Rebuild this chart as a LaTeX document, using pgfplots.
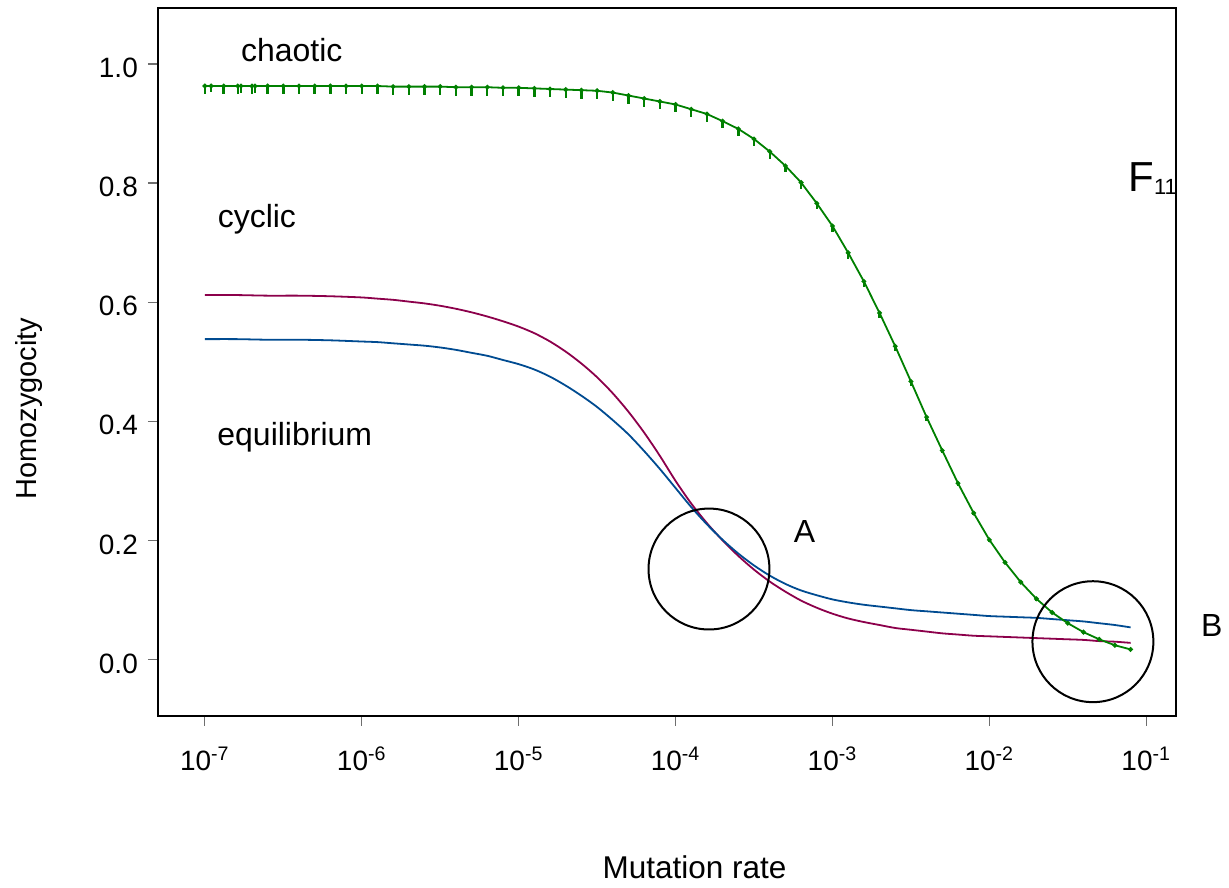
\documentclass[border=0pt]{standalone}
\usepackage{fontspec}
\setmainfont{Liberation Sans}
\usepackage{pgfplots}
\usepackage{pgfplotstable}
\pgfplotsset{compat=1.18}
\definecolor{cred}{RGB}{140,0,75}
\definecolor{cblue}{RGB}{0,75,145}
\definecolor{cgreen}{RGB}{0,128,0}
\definecolor{tickgray}{RGB}{110,110,110}

% x = log10(mutation rate)
\pgfplotstableread{
lx y e
-7.00 0.963 0.014
-6.96 0.963 0.010
-6.88 0.963 0.014
-6.79 0.963 0.014
-6.77 0.963 0.012
-6.70 0.963 0.014
-6.68 0.963 0.012
-6.60 0.963 0.014
-6.50 0.963 0.014
-6.40 0.963 0.014
-6.30 0.963 0.014
-6.20 0.963 0.014
-6.10 0.963 0.014
-6.00 0.963 0.014
-5.90 0.963 0.014
-5.80 0.962 0.014
-5.70 0.962 0.014
-5.60 0.962 0.014
-5.50 0.962 0.014
-5.40 0.961 0.014
-5.30 0.961 0.014
-5.20 0.961 0.014
-5.10 0.960 0.014
-5.00 0.960 0.014
-4.90 0.959 0.014
-4.80 0.958 0.014
-4.70 0.957 0.014
-4.60 0.956 0.014
-4.50 0.955 0.014
-4.40 0.952 0.014
-4.30 0.947 0.014
-4.20 0.942 0.014
-4.10 0.937 0.013
-4.00 0.932 0.013
-3.90 0.924 0.013
-3.80 0.916 0.013
-3.70 0.904 0.012
-3.60 0.891 0.012
-3.50 0.874 0.012
-3.40 0.853 0.012
-3.30 0.829 0.011
-3.20 0.801 0.011
-3.10 0.766 0.010
-3.00 0.728 0.010
-2.90 0.683 0.010
-2.80 0.635 0.009
-2.70 0.582 0.008
-2.60 0.526 0.008
-2.50 0.467 0.007
-2.40 0.407 0.006
-2.30 0.351 0.005
-2.20 0.296 0.005
-2.10 0.246 0.004
-2.00 0.201 0.004
-1.90 0.163 0.003
-1.80 0.130 0.003
-1.70 0.102 0.003
-1.60 0.079 0.003
-1.50 0.061 0.003
-1.40 0.046 0.003
-1.30 0.034 0.003
-1.20 0.024 0.003
-1.10 0.017 0.003
}\chaotic

\pgfplotstableread{
lx y
-7.00 0.612
-6.80 0.612
-6.60 0.611
-6.40 0.611
-6.20 0.610
-6.00 0.608
-5.90 0.606
-5.80 0.604
-5.70 0.601
-5.60 0.598
-5.50 0.594
-5.40 0.589
-5.30 0.583
-5.20 0.576
-5.10 0.568
-5.00 0.559
-4.90 0.548
-4.80 0.534
-4.70 0.517
-4.60 0.497
-4.50 0.474
-4.40 0.447
-4.30 0.416
-4.20 0.381
-4.10 0.342
-4.00 0.300
-3.90 0.262
-3.80 0.229
-3.70 0.200
-3.60 0.174
-3.50 0.151
-3.40 0.131
-3.30 0.114
-3.20 0.099
-3.10 0.087
-3.00 0.077
-2.90 0.069
-2.80 0.063
-2.70 0.058
-2.60 0.053
-2.50 0.050
-2.40 0.047
-2.30 0.044
-2.20 0.042
-2.10 0.040
-2.00 0.039
-1.90 0.038
-1.80 0.037
-1.70 0.036
-1.60 0.035
-1.50 0.034
-1.40 0.033
-1.30 0.031
-1.20 0.030
-1.10 0.028
}\cyclic

\pgfplotstableread{
lx y
-7.00 0.538
-6.80 0.538
-6.60 0.537
-6.40 0.537
-6.20 0.536
-6.00 0.534
-5.90 0.533
-5.80 0.531
-5.70 0.529
-5.60 0.527
-5.50 0.524
-5.40 0.520
-5.30 0.515
-5.20 0.510
-5.10 0.503
-5.00 0.496
-4.90 0.487
-4.80 0.475
-4.70 0.460
-4.60 0.443
-4.50 0.424
-4.40 0.402
-4.30 0.378
-4.20 0.350
-4.10 0.320
-4.00 0.288
-3.90 0.256
-3.80 0.227
-3.70 0.201
-3.60 0.178
-3.50 0.158
-3.40 0.141
-3.30 0.127
-3.20 0.116
-3.10 0.108
-3.00 0.101
-2.90 0.096
-2.80 0.092
-2.70 0.089
-2.60 0.086
-2.50 0.083
-2.40 0.081
-2.30 0.079
-2.20 0.077
-2.10 0.075
-2.00 0.073
-1.90 0.072
-1.80 0.071
-1.70 0.070
-1.60 0.068
-1.50 0.066
-1.40 0.064
-1.30 0.061
-1.20 0.058
-1.10 0.054
}\equil

\begin{document}
\begin{tikzpicture}
\begin{axis}[
  scale only axis, width=509.5pt, height=354pt,
  xmin=-7.2994, xmax=-0.809, ymin=-0.094, ymax=1.094,
  xtick={-7,-6,-5,-4,-3,-2,-1},
  xticklabels={10\textsuperscript{-7},10\textsuperscript{-6},10\textsuperscript{-5},10\textsuperscript{-4},10\textsuperscript{-3},10\textsuperscript{-2},10\textsuperscript{-1}},
  ytick={0,0.2,0.4,0.6,0.8,1.0},
  yticklabels={0.0,0.2,0.4,0.6,0.8,1.0},
  tick pos=left, tick align=outside, major tick length=5pt,
  major tick style={draw=tickgray, line width=0.6pt},
  ticklabel style={font=\fontsize{14}{16}\selectfont},
  xticklabel style={yshift=-7pt},
  yticklabel style={xshift=-1.5pt, yshift=-2pt},
  axis line style={line width=1pt, black},
  clip=false,
]
\path (rel axis cs:-0.15505,-0.24294) rectangle (rel axis cs:1.05103,1.01130);

\addplot[cred, line width=0.9pt, smooth] table[x=lx, y=y] {\cyclic};
\addplot[cblue, line width=0.9pt, smooth] table[x=lx, y=y] {\equil};
\addplot[cgreen, line width=0.9pt, mark=*, mark size=0.7pt,
  error bars/.cd, y dir=minus, y explicit,
  error mark=none, error bar style={line width=1.2pt, cgreen}]
  table[x=lx, y=y, y error=e] {\chaotic};

\draw[line width=1pt, black] (axis cs:-3.787,0.152) circle[radius=30.25pt];
\draw[line width=1pt, black] (axis cs:-1.34,0.030) circle[radius=30.25pt];

\node[anchor=base, font=\fontsize{16}{18}\selectfont] at (rel axis cs:0.1315,0.9237) {chaotic};
\node[anchor=base, font=\fontsize{16}{18}\selectfont] at (rel axis cs:0.0972,0.6893) {cyclic};
\node[anchor=base, font=\fontsize{16}{18}\selectfont] at (rel axis cs:0.1344,0.3814) {equilibrium};
\node[anchor=base, font=\fontsize{16}{18}\selectfont] at (rel axis cs:0.6349,0.2448) {A};
\node[anchor=base, font=\fontsize{16}{18}\selectfont] at (rel axis cs:1.0348,0.1112) {B};
\node[anchor=base west, inner sep=0pt] at (rel axis cs:0.9526,0.7405)
  {\fontsize{21}{24}\selectfont F\raisebox{-1.6pt}{\fontsize{11}{12}\selectfont 11}};

\node[anchor=base, font=\fontsize{15.75}{18}\selectfont] at (rel axis cs:0.527,-0.2309) {Mutation rate};
\node[rotate=90, anchor=center, font=\fontsize{14.5}{17}\selectfont] at (rel axis cs:-0.1266,0.4336) {Homozygocity};
\end{axis}
\end{tikzpicture}
\end{document}
